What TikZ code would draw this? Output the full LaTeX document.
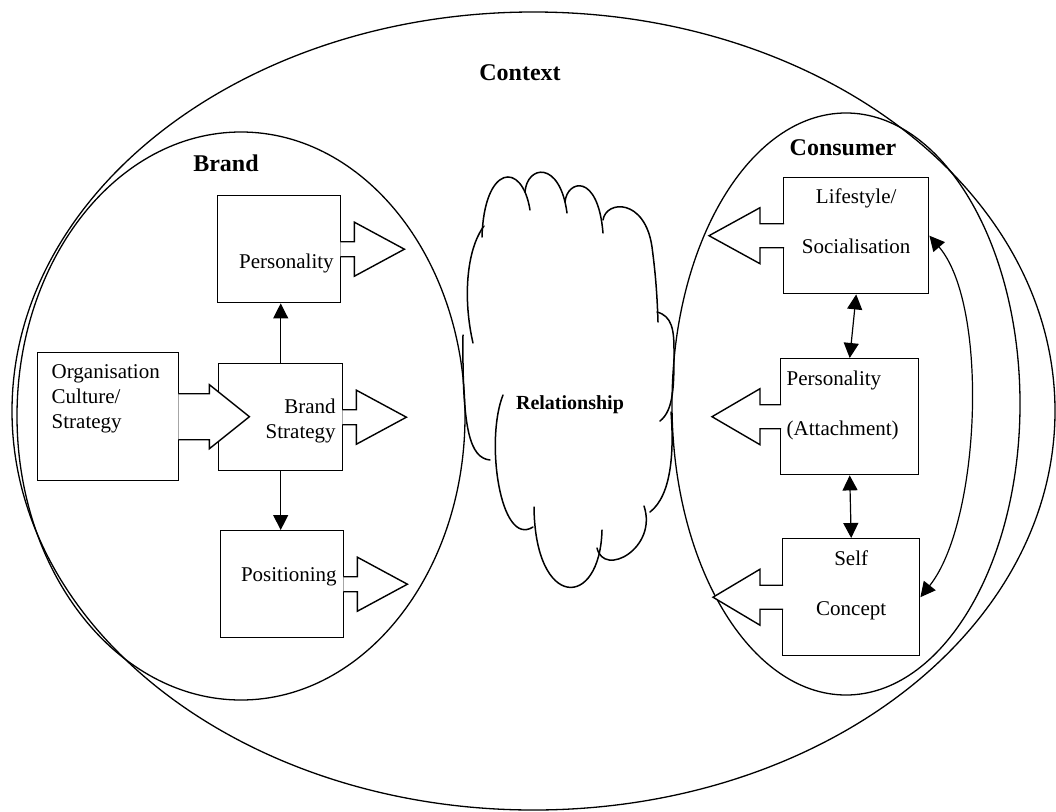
\documentclass[tikz,border=0pt]{standalone}
\usepackage{fontspec}
\setmainfont{Liberation Serif}
\usepackage{tikz}
\usetikzlibrary{arrows.meta,positioning}
\tikzstyle{factor} = [rectangle, draw, line width=1.4pt, anchor=north west, inner ysep=0pt, font=\fontsize{21}{25}\selectfont]
\tikzstyle{blockarrow} = [draw, fill=white, line width=1.4pt]
\tikzstyle{arrow} = [line width=1.2pt, -{Triangle[length=15pt,width=15pt]}]
\tikzstyle{twoway} = [line width=1.2pt, {Triangle[length=15pt,width=15pt]}-{Triangle[length=15pt,width=15pt]}]
\tikzstyle{region} = [line width=1.3pt]
\tikzstyle{puff} = [line width=1.5pt, line cap=round]
\tikzstyle{heading} = [anchor=base, font=\fontsize{24}{28}\selectfont\bfseries]

\begin{document}
\begin{tikzpicture}[x=1pt, y=-1pt]
\useasboundingbox (0,0) rectangle (1056,811);

% the three regions
\draw[region] (533.5,411) ellipse [x radius=521.5, y radius=399];
\draw[region] (241,416) ellipse [x radius=224, y radius=284];
\draw[region] (846,404) ellipse [x radius=174, y radius=291];

\node[heading] (ctx) at (520,80) {Context};
\node[heading] (brandlbl) at (226,171) {Brand};
\node[heading] (conslbl) at (843,155) {Consumer};

% relationship cloud
\draw[puff] (484,226) .. controls (466,250) and (463,300) .. (473,343);
\draw[puff] (463,335) .. controls (462,430) and (470,458) .. (490,460);
\draw[puff] (482,237) .. controls (484,165) and (522,160) .. (530,210);
\draw[puff] (525,192) .. controls (527,165) and (560,160) .. (567,213);
\draw[puff] (565,202) .. controls (567,180) and (598,172) .. (603,233);
\draw[puff] (603,220) .. controls (606,200) and (645,198) .. (652,247)
  .. controls (655,270) and (657,290) .. (658,322);
\draw[puff] (657,312) .. controls (672,316) and (674,330) .. (674,350)
  .. controls (674,385) and (674,410) .. (660,421);
\draw[puff] (671,412) .. controls (674,450) and (672,495) .. (650,512);
\draw[puff] (597,548) .. controls (604,578) and (658,548) .. (644,506);
\draw[puff] (534,507) .. controls (535,610) and (600,610) .. (602,530);
\draw[puff] (503,395) .. controls (485,440) and (500,548) .. (533,527);
\node[anchor=base, font=\fontsize{20}{24}\selectfont\bfseries] (rel) at (570,409) {Relationship};

% brand side
\node[factor, align=right, inner xsep=7pt, text width=109pt, text height=73pt, text depth=34pt] (per) at (217,195) {Personality};
\node[factor, align=right, inner xsep=7pt, text width=110pt, text height=50pt, text depth=57pt] (bs) at (218,363) {Brand\\Strategy};
\node[factor, align=right, inner xsep=7pt, text width=109pt, text height=51pt, text depth=56pt] (pos) at (220,530) {Positioning};
\node[factor, align=left, inner xsep=14pt, text width=113pt, text height=26pt, text depth=102pt] (org) at (37,352) {Organisation\\Culture/\\Strategy};

\draw[blockarrow] (per.east) ++(-1,-7.5) -- ++(14,0) -- ++(0,-19.5) -- ++(50,27) -- ++(-50,27) -- ++(0,-19.5) -- ++(-14,0);
\draw[blockarrow] (bs.east) ++(-1,-7.5) -- ++(14,0) -- ++(0,-19.5) -- ++(50,27) -- ++(-50,27) -- ++(0,-19.5) -- ++(-14,0);
\draw[blockarrow] (pos.east) ++(-1,-7.5) -- ++(14,0) -- ++(0,-19.5) -- ++(50,27) -- ++(-50,27) -- ++(0,-19.5) -- ++(-14,0);
\draw[blockarrow] (org.east) ++(-1,-23) -- ++(31,0) -- ++(0,-9) -- ++(40,32) -- ++(-40,32) -- ++(0,-9) -- ++(-31,0);

\draw[arrow] (bs.north) -- (bs.north |- per.south);
\draw[arrow] (bs.south) -- (bs.south |- pos.north);

% consumer side
\node[factor, align=center, inner xsep=6pt, text width=133pt, text height=26pt, text depth=90pt] (life) at (783,177) {Lifestyle/\\[25pt]Socialisation};
\node[factor, align=left, inner xsep=6pt, text width=126pt, text height=27pt, text depth=89pt] (att) at (780,358) {Personality\\[25pt](Attachment)};
\node[factor, align=center, inner xsep=6pt, text width=125pt, text height=27pt, text depth=90pt] (self) at (782,538) {Self\\[25pt]Concept};

\draw[blockarrow] (life.west) ++(1,-12) -- ++(-24,0) -- ++(0,-16) -- ++(-51,28) -- ++(51,28) -- ++(0,-16) -- ++(24,0);
\draw[blockarrow] (att.west) ++(1,-12) -- ++(-21,0) -- ++(0,-16) -- ++(-48,28) -- ++(48,28) -- ++(0,-16) -- ++(21,0);
\draw[blockarrow] (self.west) ++(1,-12) -- ++(-23,0) -- ++(0,-16) -- ++(-47,28) -- ++(47,28) -- ++(0,-16) -- ++(23,0);

\draw[twoway] (life.south) -- (att.north);
\draw[twoway] (att.south) -- (self.north);
\draw[twoway] (life.east) .. controls +(60,70) and +(60,-75) .. (self.east);
\end{tikzpicture}
\end{document}
